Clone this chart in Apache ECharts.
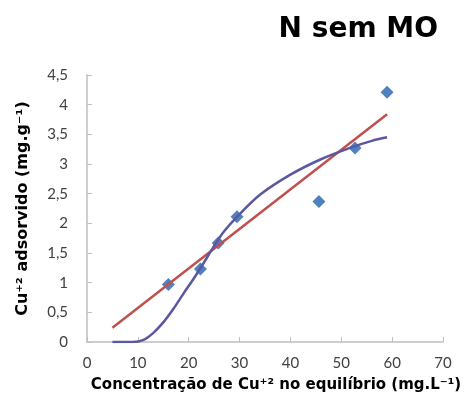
<!DOCTYPE html>
<html>
<head>
<meta charset="utf-8">
<script src="https://cdn.jsdelivr.net/npm/echarts@6/dist/echarts.min.js"></script>
<style>
  html, body { margin: 0; padding: 0; background: #ffffff; }
  #chart { width: 469px; height: 416px; }
</style>
</head>
<body>
<div id="chart"></div>
<script>
// Measured equilibrium concentration (mg/L) and adsorbed Cu(II) (mg/g)
const concentracao = [16.0, 22.3, 25.8, 29.5, 45.6, 52.7, 59.0];
const adsorvido    = [0.97, 1.23, 1.67, 2.11, 2.37, 3.27, 4.21];

// Linear trend line (end points)
const linearX = [5, 59];
const linearY = [0.24, 3.84];

// Sigmoidal fitted curve, sampled along x
const curvaX = [5, 9, 11, 13, 15, 17, 19, 21, 23, 25, 27, 29.5, 34, 40, 46, 52, 56, 59];
const curvaY = [0, 0, 0.03, 0.15, 0.33, 0.56, 0.82, 1.07, 1.34, 1.62, 1.87, 2.11, 2.48, 2.82, 3.08, 3.28, 3.39, 3.45];

// Axis ticks
const xTicks = [0, 10, 20, 30, 40, 50, 60, 70];
const yTicks = [0, 0.5, 1, 1.5, 2, 2.5, 3, 3.5, 4, 4.5];

const zip = (a, b) => a.map((v, i) => [v, b[i]]);

const chart = echarts.init(document.getElementById('chart'), null, { renderer: 'canvas' });

const axisGray = '#bfbfbf';
const labelColor = '#404040';
const labelFont = 'Lato, "Open Sans", sans-serif';
const titleFont = '"DejaVu Sans", "Open Sans", sans-serif';

chart.setOption({
  animation: false,
  backgroundColor: '#ffffff',
  title: {
    text: 'N sem MO',
    right: 26,
    top: 11,
    textStyle: { fontFamily: titleFont, fontSize: 28, fontWeight: 'bold', color: '#000000' }
  },
  grid: { left: 87, right: 26, top: 75, bottom: 74 },
  xAxis: {
    type: 'value',
    min: xTicks[0],
    max: xTicks[xTicks.length - 1],
    interval: xTicks[1] - xTicks[0],
    name: 'Concentração de Cu⁺² no equilíbrio (mg.L⁻¹)',
    nameLocation: 'middle',
    nameGap: 36,
    nameTextStyle: { fontFamily: titleFont, fontSize: 15, fontWeight: 'bold', color: '#000000', padding: [0, 0, 0, 22] },
    axisLine: { show: true, lineStyle: { color: axisGray, width: 1.5 } },
    axisTick: { show: true, inside: true, length: 5, lineStyle: { color: axisGray } },
    axisLabel: { fontFamily: labelFont, fontSize: 15, color: labelColor, margin: 14 },
    splitLine: { show: false }
  },
  yAxis: {
    type: 'value',
    min: yTicks[0],
    max: yTicks[yTicks.length - 1],
    interval: yTicks[1] - yTicks[0],
    name: 'Cu⁺² adsorvido (mg.g⁻¹)',
    nameLocation: 'middle',
    nameGap: 56,
    nameTextStyle: { fontFamily: titleFont, fontSize: 16, fontWeight: 'bold', color: '#000000' },
    axisLine: { show: true, lineStyle: { color: axisGray, width: 1.5 } },
    axisTick: { show: true, inside: true, length: 5, lineStyle: { color: axisGray } },
    axisLabel: {
      fontFamily: labelFont, fontSize: 15, color: labelColor, margin: 19,
      formatter: v => String(v).replace('.', ',')
    },
    splitLine: { show: false }
  },
  series: [
    {
      name: 'Linear',
      type: 'line',
      data: zip(linearX, linearY),
      symbol: 'none',
      lineStyle: { color: '#c0504d', width: 2.5 },
      z: 2
    },
    {
      name: 'Ajuste',
      type: 'line',
      data: zip(curvaX, curvaY),
      symbol: 'none',
      smooth: 0.3,
      lineStyle: { color: '#5b58a0', width: 2.5 },
      z: 3
    },
    {
      name: 'Dados',
      type: 'scatter',
      data: zip(concentracao, adsorvido),
      symbol: 'diamond',
      symbolSize: [13, 13],
      itemStyle: { color: '#4f81bd', opacity: 1 },
      z: 1
    }
  ]
});
</script>
</body>
</html>
